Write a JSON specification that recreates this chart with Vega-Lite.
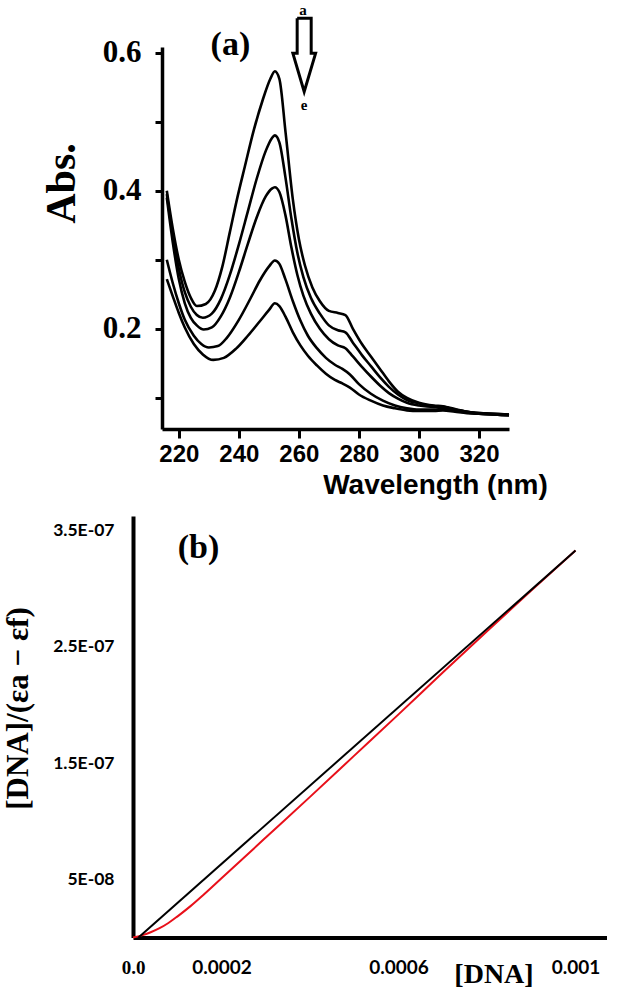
{
  "$schema": "https://vega.github.io/schema/vega-lite/v6.json",
  "background": "white",
  "padding": {"left": 2, "top": 3, "right": 0, "bottom": 0},
  "config": {
    "view": {"stroke": null},
    "axis": {"grid": false, "domainColor": "black", "tickColor": "black", "labelColor": "black", "titleColor": "black", "labelFlush": false, "labelOverlap": false}
  },
  "datasets": {
    "spectra": [
      {"curve":"a","wl":216,"abs":0.40},{"curve":"a","wl":218,"abs":0.345},{"curve":"a","wl":220,"abs":0.30},{"curve":"a","wl":222,"abs":0.268},{"curve":"a","wl":224,"abs":0.245},{"curve":"a","wl":226,"abs":0.233},{"curve":"a","wl":229,"abs":0.236},{"curve":"a","wl":232,"abs":0.255},{"curve":"a","wl":234.5,"abs":0.29},{"curve":"a","wl":237,"abs":0.34},{"curve":"a","wl":239.5,"abs":0.39},{"curve":"a","wl":242,"abs":0.435},{"curve":"a","wl":245,"abs":0.488},{"curve":"a","wl":248,"abs":0.532},{"curve":"a","wl":250.5,"abs":0.562},{"curve":"a","wl":252,"abs":0.573},{"curve":"a","wl":253.5,"abs":0.562},{"curve":"a","wl":255.6,"abs":0.483},{"curve":"a","wl":258,"abs":0.387},{"curve":"a","wl":260,"abs":0.33},{"curve":"a","wl":262,"abs":0.292},{"curve":"a","wl":264.5,"abs":0.26},{"curve":"a","wl":267,"abs":0.24},{"curve":"a","wl":270,"abs":0.226},{"curve":"a","wl":273,"abs":0.223},{"curve":"a","wl":275.5,"abs":0.22},{"curve":"a","wl":278,"abs":0.2},{"curve":"a","wl":281,"abs":0.178},{"curve":"a","wl":284,"abs":0.16},{"curve":"a","wl":287,"abs":0.142},{"curve":"a","wl":290,"abs":0.124},{"curve":"a","wl":293,"abs":0.109},{"curve":"a","wl":296,"abs":0.1},{"curve":"a","wl":300,"abs":0.093},{"curve":"a","wl":305,"abs":0.089},{"curve":"a","wl":308,"abs":0.088},{"curve":"a","wl":312,"abs":0.084},{"curve":"a","wl":316,"abs":0.08},{"curve":"a","wl":320,"abs":0.078},{"curve":"a","wl":325,"abs":0.077},{"curve":"a","wl":330,"abs":0.076},
      {"curve":"b","wl":216,"abs":0.395},{"curve":"b","wl":218,"abs":0.335},{"curve":"b","wl":220,"abs":0.287},{"curve":"b","wl":222,"abs":0.253},{"curve":"b","wl":224,"abs":0.232},{"curve":"b","wl":226,"abs":0.22},{"curve":"b","wl":228,"abs":0.216},{"curve":"b","wl":231,"abs":0.222},{"curve":"b","wl":234,"abs":0.243},{"curve":"b","wl":237,"abs":0.278},{"curve":"b","wl":240,"abs":0.322},{"curve":"b","wl":243,"abs":0.37},{"curve":"b","wl":246,"abs":0.418},{"curve":"b","wl":249,"abs":0.458},{"curve":"b","wl":251,"abs":0.476},{"curve":"b","wl":252,"abs":0.48},{"curve":"b","wl":253.5,"abs":0.47},{"curve":"b","wl":255.5,"abs":0.42},{"curve":"b","wl":257.5,"abs":0.36},{"curve":"b","wl":259.5,"abs":0.31},{"curve":"b","wl":261.5,"abs":0.275},{"curve":"b","wl":264,"abs":0.245},{"curve":"b","wl":267,"abs":0.222},{"curve":"b","wl":270,"abs":0.205},{"curve":"b","wl":273,"abs":0.198},{"curve":"b","wl":275.5,"abs":0.195},{"curve":"b","wl":278,"abs":0.18},{"curve":"b","wl":281,"abs":0.162},{"curve":"b","wl":284,"abs":0.146},{"curve":"b","wl":287,"abs":0.13},{"curve":"b","wl":290,"abs":0.116},{"curve":"b","wl":293,"abs":0.105},{"curve":"b","wl":296,"abs":0.097},{"curve":"b","wl":300,"abs":0.092},{"curve":"b","wl":305,"abs":0.088},{"curve":"b","wl":308,"abs":0.087},{"curve":"b","wl":312,"abs":0.083},{"curve":"b","wl":316,"abs":0.08},{"curve":"b","wl":320,"abs":0.078},{"curve":"b","wl":325,"abs":0.077},{"curve":"b","wl":330,"abs":0.076},
      {"curve":"c","wl":216,"abs":0.39},{"curve":"c","wl":218,"abs":0.325},{"curve":"c","wl":220,"abs":0.272},{"curve":"c","wl":222,"abs":0.237},{"curve":"c","wl":224,"abs":0.216},{"curve":"c","wl":226,"abs":0.205},{"curve":"c","wl":228.3,"abs":0.199},{"curve":"c","wl":231,"abs":0.202},{"curve":"c","wl":234,"abs":0.218},{"curve":"c","wl":237,"abs":0.245},{"curve":"c","wl":240,"abs":0.282},{"curve":"c","wl":243,"abs":0.323},{"curve":"c","wl":246,"abs":0.362},{"curve":"c","wl":249,"abs":0.392},{"curve":"c","wl":251,"abs":0.403},{"curve":"c","wl":252,"abs":0.405},{"curve":"c","wl":253.5,"abs":0.398},{"curve":"c","wl":255.5,"abs":0.365},{"curve":"c","wl":257.5,"abs":0.318},{"curve":"c","wl":259.5,"abs":0.278},{"curve":"c","wl":261.5,"abs":0.248},{"curve":"c","wl":264,"abs":0.222},{"curve":"c","wl":267,"abs":0.2},{"curve":"c","wl":270,"abs":0.185},{"curve":"c","wl":273,"abs":0.176},{"curve":"c","wl":275.5,"abs":0.172},{"curve":"c","wl":278,"abs":0.16},{"curve":"c","wl":281,"abs":0.145},{"curve":"c","wl":284,"abs":0.131},{"curve":"c","wl":287,"abs":0.118},{"curve":"c","wl":290,"abs":0.107},{"curve":"c","wl":293,"abs":0.099},{"curve":"c","wl":296,"abs":0.093},{"curve":"c","wl":300,"abs":0.089},{"curve":"c","wl":305,"abs":0.087},{"curve":"c","wl":308,"abs":0.087},{"curve":"c","wl":312,"abs":0.083},{"curve":"c","wl":316,"abs":0.08},{"curve":"c","wl":320,"abs":0.077},{"curve":"c","wl":325,"abs":0.076},{"curve":"c","wl":330,"abs":0.075},
      {"curve":"d","wl":216,"abs":0.30},{"curve":"d","wl":218,"abs":0.266},{"curve":"d","wl":220,"abs":0.237},{"curve":"d","wl":222,"abs":0.213},{"curve":"d","wl":225,"abs":0.19},{"curve":"d","wl":227.5,"abs":0.178},{"curve":"d","wl":230,"abs":0.173},{"curve":"d","wl":233,"abs":0.175},{"curve":"d","wl":236,"abs":0.187},{"curve":"d","wl":240,"abs":0.213},{"curve":"d","wl":244,"abs":0.245},{"curve":"d","wl":247,"abs":0.27},{"curve":"d","wl":250,"abs":0.29},{"curve":"d","wl":252,"abs":0.299},{"curve":"d","wl":253.5,"abs":0.294},{"curve":"d","wl":255.5,"abs":0.272},{"curve":"d","wl":258,"abs":0.24},{"curve":"d","wl":260.5,"abs":0.212},{"curve":"d","wl":263,"abs":0.19},{"curve":"d","wl":266,"abs":0.172},{"curve":"d","wl":269,"abs":0.158},{"curve":"d","wl":272,"abs":0.148},{"curve":"d","wl":274.5,"abs":0.142},{"curve":"d","wl":277,"abs":0.134},{"curve":"d","wl":280,"abs":0.12},{"curve":"d","wl":284,"abs":0.106},{"curve":"d","wl":288,"abs":0.096},{"curve":"d","wl":292,"abs":0.089},{"curve":"d","wl":296,"abs":0.085},{"curve":"d","wl":300,"abs":0.083},{"curve":"d","wl":305,"abs":0.083},{"curve":"d","wl":308,"abs":0.084},{"curve":"d","wl":312,"abs":0.081},{"curve":"d","wl":316,"abs":0.079},{"curve":"d","wl":320,"abs":0.077},{"curve":"d","wl":325,"abs":0.076},{"curve":"d","wl":330,"abs":0.075},
      {"curve":"e","wl":216,"abs":0.272},{"curve":"e","wl":218,"abs":0.247},{"curve":"e","wl":220,"abs":0.223},{"curve":"e","wl":222,"abs":0.202},{"curve":"e","wl":225,"abs":0.178},{"curve":"e","wl":228,"abs":0.163},{"curve":"e","wl":231.5,"abs":0.155},{"curve":"e","wl":235,"abs":0.158},{"curve":"e","wl":239,"abs":0.171},{"curve":"e","wl":243,"abs":0.19},{"curve":"e","wl":247,"abs":0.211},{"curve":"e","wl":250,"abs":0.227},{"curve":"e","wl":252,"abs":0.237},{"curve":"e","wl":253.5,"abs":0.233},{"curve":"e","wl":255.5,"abs":0.218},{"curve":"e","wl":258,"abs":0.195},{"curve":"e","wl":260.5,"abs":0.176},{"curve":"e","wl":263,"abs":0.161},{"curve":"e","wl":266,"abs":0.147},{"curve":"e","wl":269,"abs":0.135},{"curve":"e","wl":272,"abs":0.126},{"curve":"e","wl":274.5,"abs":0.121},{"curve":"e","wl":277,"abs":0.115},{"curve":"e","wl":280,"abs":0.105},{"curve":"e","wl":284,"abs":0.096},{"curve":"e","wl":288,"abs":0.089},{"curve":"e","wl":292,"abs":0.085},{"curve":"e","wl":296,"abs":0.082},{"curve":"e","wl":300,"abs":0.081},{"curve":"e","wl":305,"abs":0.081},{"curve":"e","wl":308,"abs":0.082},{"curve":"e","wl":312,"abs":0.08},{"curve":"e","wl":316,"abs":0.078},{"curve":"e","wl":320,"abs":0.077},{"curve":"e","wl":325,"abs":0.076},{"curve":"e","wl":330,"abs":0.075}
    ],
    "arrow": [
      {"i":0,"wl":259.43,"abs":0.6495},{"i":1,"wl":264.1,"abs":0.6495},{"i":2,"wl":264.1,"abs":0.5988},{"i":3,"wl":265.57,"abs":0.5988},{"i":4,"wl":261.77,"abs":0.5433},{"i":5,"wl":258.0,"abs":0.5988},{"i":6,"wl":259.43,"abs":0.5988},{"i":7,"wl":259.43,"abs":0.6495}
    ],
    "arrowLabels": [
      {"wl":261.4,"abs":0.6615,"label":"a"},{"wl":261.7,"abs":0.524,"label":"e"}
    ],
    "fit": [
      {"series":"data","dna":0,"y":0},{"series":"data","dna":0.00002,"y":0.18e-8},{"series":"data","dna":0.00004,"y":0.45e-8},{"series":"data","dna":0.00006,"y":0.8e-8},{"series":"data","dna":0.00008,"y":1.25e-8},{"series":"data","dna":0.0001,"y":1.8e-8},{"series":"data","dna":0.00013,"y":2.7e-8},{"series":"data","dna":0.00016,"y":3.7e-8},{"series":"data","dna":0.0002,"y":5.1e-8},{"series":"data","dna":0.0003,"y":8.6e-8},{"series":"data","dna":0.0004,"y":1.21e-7},{"series":"data","dna":0.0005,"y":1.565e-7},{"series":"data","dna":0.0006,"y":1.92e-7},{"series":"data","dna":0.0007,"y":2.28e-7},{"series":"data","dna":0.0008,"y":2.635e-7},{"series":"data","dna":0.0009,"y":2.985e-7},{"series":"data","dna":0.001,"y":3.33e-7},
      {"series":"fit","dna":0.0000124,"y":0},{"series":"fit","dna":0.001,"y":3.33e-7}
    ]
  },
  "spacing": 17,
  "vconcat": [
    {
      "spacing": 0,
      "bounds": "flush",
      "hconcat": [
        {"width": 28.5, "height": 10, "data": {"values": []}, "mark": "point", "encoding": {}},
        {
          "width": 347,
          "height": 382,
          "layer": [
            {
              "data": {"name": "spectra"},
              "mark": {"type": "line", "interpolate": "monotone", "color": "black", "strokeWidth": 2.6},
              "encoding": {
                "x": {"field": "wl", "type": "quantitative", "scale": {"domain": [214.4, 330], "nice": false, "zero": false},
                  "axis": {"values": [220,230,240,250,260,270,280,290,300,310,320,330], "labelExpr": "datum.value % 20 == 0 ? datum.label : ''",
                    "title": "Wavelength (nm)", "domainWidth": 3.5, "tickWidth": 3, "tickSize": 9, "labelPadding": 4,
                    "labelFont": "Liberation Sans", "labelFontWeight": "bold", "labelFontSize": 24,
                    "titleFont": "Liberation Sans", "titleFontWeight": "bold", "titleFontSize": 28,
                    "titleX": 273, "titleY": 64, "titleBaseline": "alphabetic", "titleAlign": "center"}},
                "y": {"field": "abs", "type": "quantitative", "scale": {"domain": [0.055, 0.608], "nice": false, "zero": false},
                  "axis": {"values": [0.1,0.2,0.3,0.4,0.5,0.6], "labelExpr": "round(datum.value*10) % 2 == 0 ? format(datum.value, '.1f') : ''",
                    "title": "Abs.", "domainWidth": 3.5, "tickWidth": 3, "tickSize": 7, "labelPadding": 14,
                    "labelFont": "Liberation Serif", "labelFontWeight": "bold", "labelFontSize": 31,
                    "titleFont": "Liberation Serif", "titleFontWeight": "bold", "titleFontSize": 42,
                    "titleX": -88, "titleY": 136, "titleBaseline": "alphabetic", "titleAlign": "center", "titleAngle": -90}},
                "detail": {"field": "curve"}
              }
            },
            {
              "data": {"name": "arrow"},
              "mark": {"type": "line", "color": "black", "strokeWidth": 3, "strokeJoin": "miter"},
              "encoding": {
                "x": {"field": "wl", "type": "quantitative"},
                "y": {"field": "abs", "type": "quantitative"},
                "order": {"field": "i", "type": "quantitative"}
              }
            },
            {
              "data": {"name": "arrowLabels"},
              "mark": {"type": "text", "font": "Liberation Serif", "fontWeight": "bold", "fontSize": 15, "color": "black"},
              "encoding": {
                "x": {"field": "wl", "type": "quantitative"},
                "y": {"field": "abs", "type": "quantitative"},
                "text": {"field": "label"}
              }
            },
            {
              "data": {"values": [{"wl": 237.2, "abs": 0.611, "label": "(a)"}]},
              "mark": {"type": "text", "font": "Liberation Serif", "fontWeight": "bold", "fontSize": 34, "color": "black"},
              "encoding": {
                "x": {"field": "wl", "type": "quantitative"},
                "y": {"field": "abs", "type": "quantitative"},
                "text": {"field": "label"}
              }
            }
          ]
        }
      ]
    },
    {
      "width": 473.5,
      "height": 421.5,
      "encoding": {
        "x": {"field": "dna", "type": "quantitative", "scale": {"domain": [0, 0.00107], "nice": false, "zero": false},
          "axis": {"values": [0, 0.0002, 0.0006, 0.001],
            "labelExpr": "datum.value == 0 ? '0.0' : datum.value < 0.0004 ? '0.0002' : datum.value < 0.0008 ? '0.0006' : '0.001'",
            "ticks": false, "tickSize": 0, "domainWidth": 4, "labelPadding": 21,
            "labelFont": {"condition": {"test": "datum.value == 0", "value": "Liberation Serif"}, "value": "Lato"},
            "labelFontWeight": "bold", "labelFontSize": 19,
            "title": "[DNA]", "titleFont": "Liberation Serif", "titleFontWeight": "bold", "titleFontSize": 28,
            "titleX": 360.5, "titleY": 45, "titleBaseline": "alphabetic", "titleAlign": "center"}},
        "y": {"field": "y", "type": "quantitative", "scale": {"domain": [0, 3.627e-7], "nice": false, "zero": false},
          "axis": {"values": [5e-8, 1.5e-7, 2.5e-7, 3.5e-7],
            "labelExpr": "datum.value < 1e-7 ? '5E-08' : datum.value < 2e-7 ? '1.5E-07' : datum.value < 3e-7 ? '2.5E-07' : '3.5E-07'",
            "ticks": false, "tickSize": 0, "domainWidth": 4, "labelPadding": 19,
            "labelFont": "Lato", "labelFontWeight": "bold", "labelFontSize": 17.5,
            "title": "[DNA]/(εa − εf)", "titleFont": "Liberation Serif", "titleFontWeight": "bold", "titleFontSize": 31,
            "titleX": -106, "titleY": 192, "titleBaseline": "alphabetic", "titleAlign": "center", "titleAngle": -90}}
      },
      "layer": [
        {
          "data": {"name": "fit"},
          "transform": [{"filter": "datum.series == 'data'"}],
          "mark": {"type": "line", "color": "#e8101a", "strokeWidth": 2, "interpolate": "monotone"}
        },
        {
          "data": {"name": "fit"},
          "transform": [{"filter": "datum.series == 'fit'"}],
          "mark": {"type": "line", "color": "black", "strokeWidth": 2}
        },
        {
          "data": {"values": [{"dna": 0.000148, "y": 3.352e-7, "label": "(b)"}]},
          "mark": {"type": "text", "font": "Liberation Serif", "fontWeight": "bold", "fontSize": 34, "color": "black"},
          "encoding": {"text": {"field": "label"}}
        }
      ]
    }
  ]
}
